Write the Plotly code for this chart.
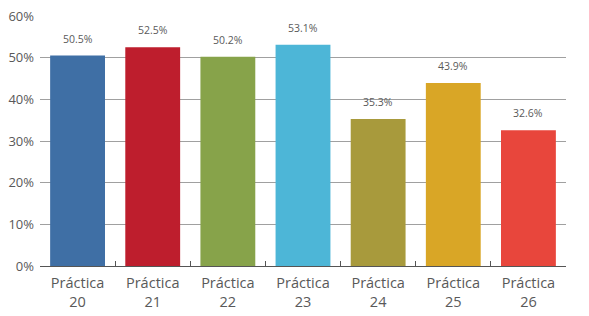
import plotly.graph_objects as go

categories = ["Práctica<br>20", "Práctica<br>21", "Práctica<br>22", "Práctica<br>23",
              "Práctica<br>24", "Práctica<br>25", "Práctica<br>26"]
values = [50.5, 52.5, 50.2, 53.1, 35.3, 43.9, 32.6]
colors = ["#3F6FA5", "#BE1E2D", "#87A34A", "#4DB6D7", "#A89A3C", "#D9A626", "#E8463C"]
tick_vals = [0, 10, 20, 30, 40, 50, 60]
tick_text = ["0%", "10%", "20%", "30%", "40%", "50%", "60%"]

fig = go.Figure()
fig.add_trace(go.Bar(x=categories, y=values, marker=dict(color=colors, line=dict(width=0)),
                     hoverinfo="skip"))

for c, v in zip(categories, values):
    fig.add_annotation(x=c, y=v, text=f"{v:.1f}%", showarrow=False, yshift=17,
                       font=dict(family="Open Sans", size=10.5, color="#5A5A5A"))

fig.update_layout(
    width=589, height=316,
    margin=dict(l=40, r=23, t=16, b=50, autoexpand=False),
    paper_bgcolor="white", plot_bgcolor="white",
    bargap=0.27, showlegend=False,
    font=dict(family="Open Sans", color="#595959"),
)
fig.update_xaxes(showline=True, linecolor="#555555", linewidth=1, ticks="inside",
                 tickson="boundaries", ticklen=5, tickcolor="#555555", automargin=False,
                 tickfont=dict(size=14.5, color="#595959"), showgrid=False,
                 ticklabelstandoff=4)
fig.update_yaxes(range=[0, 60], tickvals=tick_vals, ticktext=tick_text, showgrid=True,
                 gridcolor="#A0A0A0", gridwidth=1, zeroline=False, showline=False,
                 automargin=False,
                 tickfont=dict(size=13, color="#595959"), ticks="", ticklabelstandoff=5)

fig.write_html("out.html", config={"displayModeBar": False},
               post_script="document.body.style.margin='0';")
